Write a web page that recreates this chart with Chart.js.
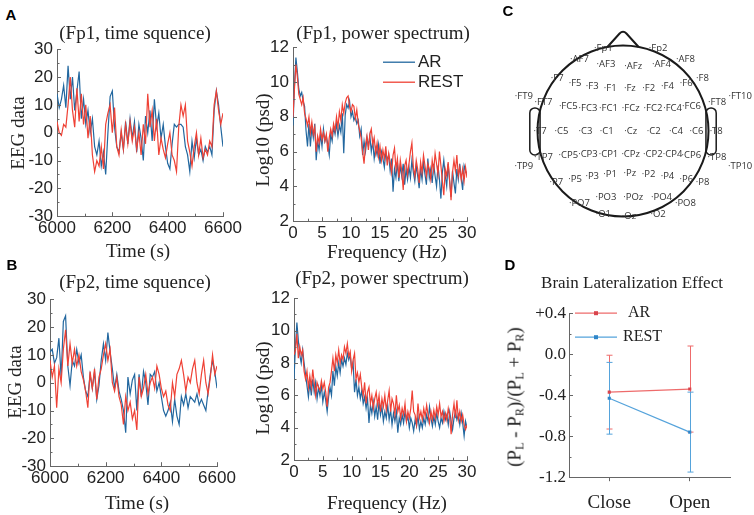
<!DOCTYPE html>
<html>
<head>
<meta charset="utf-8">
<script src="https://cdn.jsdelivr.net/npm/chart.js@4.4.0/dist/chart.umd.min.js"></script>
<style>
  body { margin: 0; background: #fff; }
  #page { position: relative; width: 754px; height: 515px; overflow: hidden; }
  .box { position: absolute; }
  .t { position: absolute; transform: translate(-50%, -50%); white-space: nowrap; line-height: 1;
       color: #222; font-family: "Liberation Serif", "Times New Roman", serif; font-size: 19px; }
  .rot { transform: translate(-50%, -50%) rotate(-90deg); }
  .pl { font-family: "Liberation Sans", Arial, sans-serif; font-weight: bold; font-size: 15px; color: #000; }
  sub { font-size: 12px; vertical-align: -3px; }
</style>
</head>
<body>
<div id="page">
  <div class="box" id="boxA1"><canvas id="cA1"></canvas></div>
  <div class="box" id="boxA2"><canvas id="cA2"></canvas></div>
  <div class="box" id="boxB1"><canvas id="cB1"></canvas></div>
  <div class="box" id="boxB2"><canvas id="cB2"></canvas></div>
  <div class="box" id="boxC" style="left:500px;top:0;width:254px;height:240px"><canvas id="cC"></canvas></div>
  <div class="box" id="boxD"><canvas id="cD"></canvas></div>

  <div class="t pl" style="left:11px;top:14px">A</div>
  <div class="t" style="left:135px;top:32px">(Fp1, time squence)</div>
  <div class="t" style="left:383px;top:32px">(Fp1, power spectrum)</div>
  <div class="t rot" style="left:17px;top:133px">EEG data</div>
  <div class="t rot" style="left:262px;top:140px">Log10 (psd)</div>
  <div class="t" style="left:138px;top:250px">Time (s)</div>
  <div class="t" style="left:387px;top:251px">Frequency (Hz)</div>

  <div class="t pl" style="left:12px;top:264px">B</div>
  <div class="t" style="left:135px;top:281px">(Fp2, time squence)</div>
  <div class="t" style="left:382px;top:277px">(Fp2, power spectrum)</div>
  <div class="t rot" style="left:14px;top:382px">EEG data</div>
  <div class="t rot" style="left:262px;top:388px">Log10 (psd)</div>
  <div class="t" style="left:137px;top:502px">Time (s)</div>
  <div class="t" style="left:387px;top:502px">Frequency (Hz)</div>

  <div class="t pl" style="left:508px;top:10px">C</div>
  <div class="t pl" style="left:510px;top:264px">D</div>
  <div class="t" style="left:632px;top:282px;font-size:17px">Brain Lateralization Effect</div>
  <div class="t rot" style="left:515px;top:397px">(P<sub>L</sub> - P<sub>R</sub>)/(P<sub>L</sub> + P<sub>R</sub>)</div>
</div>

<script>
// time sequences, one sample every 8 s from 6000 s
const timeStart = 6000;
const timeStep = 8;
const fp1TimeAR = [14, 9, 12, 17, 9, 24, 12, 20, 8, 15,
  22, 5, 12, 3, 8, 0, 5, -5, -8, -3,
  -12, -7, -15, 0, 13, 15, 2, -5, -7, 0,
  -6, 4, -4, 5, -2, 4, -7, 3, -2, -10,
  6, 0, 8, -3, 12, 2, 7, -2, 3, -5,
  -11, -13, -4, 3, 2, 3, 3, 2, -5, -8,
  -14, -3, -9, -2, -8, -6, -10, -5, -7, -5,
  -8, 8, 15, 10, 2, -5];
const fp1TimeREST = [4, 0, -1, 3, 2, 10, 20, 8, 2, 16,
  4, 14, 3, 10, -2, 6, -8, -14, -10, -12,
  -5, -13, 3, 7, 10, 0, 9, -5, -8, 1,
  -6, 3, -4, 4, -3, 2, -6, 0, -8, 3,
  -4, 14, 2, 8, -3, 5, -8, -2, -6, -9,
  -4, 0, -8, -10, -14, 2, 10, 6, 10, -3,
  -7, -12, -5, 0, -8, -2, -9, -6, -8, -3,
  -5, 10, 15, 8, 3, 7];
const fp2TimeAR = [11, 12, 7, 9, 16, 2, 22, 24, 6, -1,
  8, 6, 12, 7, 10, 2, -3, -5, 3, -2,
  4, -6, -1, 8, 14, 8, 18, 11, 5, -2,
  3, -3, -6, -10, -18, 2, -4, 1, 3, -10,
  3, -5, 4, 0, -8, 3, 2, 4, -3, 0,
  -5, -10, -12, -10, -7, -14, -6, -12, -15, -5,
  -8, -4, -9, -5, -6, -7, -4, -8, -6, -8,
  -10, -3, 3, 8, 4, -2];
const fp2TimeREST = [8, 2, 6, -9, 5, 0, 12, 19, 6, 14,
  7, 12, 6, 10, 4, 1, -3, -9, 4, -2,
  5, -6, 2, 5, 10, 14, 8, 12, 0, -3,
  2, -5, -8, -15, -5, -10, -7, -13, -10, -17,
  2, -5, -2, 3, -4, 0, 2, -2, 6, 3,
  -2, -5, -3, -8, -10, 0, -5, 3, 5, 8,
  3, -3, 2, 0, 5, 8, 0, -4, 3, 8,
  0, -4, 2, 10, 3, 6];

// power spectra, one value every 0.25 Hz from 0 Hz
const freqStep = 0.25;
const fp1PsdAR = [7.5, 9.8, 11.4, 10.6, 9.6, 9.2, 9.4, 8.9, 8.6, 7.2,
  6.3, 7.6, 6.3, 7.4, 6.8, 7.6, 5.5, 6.6, 6.1, 7.0,
  6.3, 7.3, 6.6, 6.9, 6.4, 5.8, 7.0, 6.6, 7.4, 7.0,
  7.6, 6.9, 7.5, 7.1, 8.2, 5.9, 8.1, 8.7, 8.5, 8.9,
  8.0, 8.3, 7.8, 8.0, 7.6, 7.8, 6.9, 7.3, 5.8, 6.6,
  6.0, 6.8, 6.3, 6.9, 6.0, 6.6, 5.6, 6.2, 5.8, 6.4,
  5.3, 6.0, 5.6, 5.1, 6.0, 5.5, 5.8, 4.9, 5.6, 3.7,
  5.0, 4.5, 5.4, 4.3, 5.2, 4.6, 5.3, 4.1, 5.0, 4.4,
  5.1, 4.5, 5.5, 4.8, 4.3, 5.2, 4.6, 3.9, 5.0, 4.4,
  5.4, 4.7, 4.1, 5.6, 4.5, 5.0, 4.2, 5.3, 4.6, 4.0,
  5.2, 4.4, 3.3, 4.8, 5.5, 4.6, 4.0, 5.3, 4.3, 3.4,
  4.9, 4.2, 3.6, 5.0, 4.4, 5.3, 4.5, 3.8, 5.2, 4.9,
  4.7];
const fp1PsdREST = [8.0, 9.6, 11.0, 10.3, 9.3, 9.0, 8.7, 9.1, 8.2, 7.9,
  7.5, 8.0, 7.1, 7.7, 7.0, 7.4, 6.0, 6.9, 6.5, 7.3,
  6.7, 7.1, 6.6, 7.0, 6.0, 6.8, 7.3, 6.9, 7.6, 7.2,
  8.0, 7.4, 8.3, 7.8, 8.7, 8.2, 8.8, 9.1, 9.2, 8.6,
  8.3, 8.7, 8.6, 7.9, 8.4, 7.6, 7.2, 6.8, 6.0, 5.3,
  6.4, 6.9, 6.1, 7.0, 7.3, 6.4, 6.8, 5.9, 6.5, 5.7,
  6.3, 5.5, 6.1, 5.6, 6.3, 5.2, 5.9, 5.4, 4.8, 5.8,
  6.2, 5.0, 5.6, 4.5, 5.5, 4.9, 3.8, 5.2, 5.5, 4.7,
  5.3, 6.0, 6.5, 5.1, 4.6, 5.5, 5.0, 4.2, 5.4, 4.8,
  5.8, 5.2, 4.6, 5.3, 5.0, 4.4, 5.5, 4.9, 5.9, 5.3,
  4.7, 6.0, 5.2, 4.3, 3.5, 5.0, 4.6, 5.4, 4.4, 3.2,
  4.8, 5.5, 4.9, 5.8, 4.6, 5.1, 4.4, 5.0, 4.3, 5.1,
  4.5];
const fp2PsdAR = [7.0, 9.0, 10.5, 9.4, 8.5, 8.0, 8.8, 8.0, 7.3, 6.6,
  5.9, 6.8, 6.0, 7.0, 6.2, 6.8, 5.8, 6.5, 6.0, 6.6,
  5.6, 6.2, 5.7, 5.0, 5.9, 6.5, 6.0, 7.5, 6.6, 7.8,
  7.2, 8.0, 7.4, 8.2, 7.8, 8.3, 7.9, 8.6, 8.2, 8.5,
  7.6, 8.0, 6.2, 7.0, 6.0, 6.5, 5.8, 6.3, 5.5, 5.9,
  5.2, 5.8, 4.3, 5.4, 4.9, 5.6, 4.7, 5.3, 4.5, 5.6,
  4.8, 5.3, 4.4, 5.0, 4.6, 5.4, 4.5, 5.1, 4.2, 4.9,
  4.4, 5.0, 3.7, 4.6, 4.2, 4.8, 4.3, 5.0, 4.4, 4.7,
  4.0, 4.6, 4.3, 3.8, 4.5, 4.1, 4.7, 3.9, 4.4, 4.0,
  4.6, 4.2, 4.8, 4.4, 5.3, 4.6, 4.1, 4.7, 4.2, 4.9,
  4.4, 4.0, 4.6, 4.3, 5.0, 4.5, 4.8, 4.2, 5.0, 4.4,
  3.9, 4.6, 5.0, 4.5, 4.8, 4.2, 4.9, 4.3, 3.5, 4.4,
  4.0];
const fp2PsdREST = [8.5, 8.8, 9.8, 8.3, 9.0, 8.5, 8.8, 7.5, 7.0, 7.5,
  6.5, 7.2, 6.5, 7.6, 6.8, 6.0, 6.8, 6.5, 6.3, 6.9,
  6.4, 6.8, 6.2, 5.3, 6.5, 6.8, 7.5, 8.3, 7.5, 8.5,
  8.0, 8.8, 8.0, 8.5, 8.2, 9.0, 8.6, 9.2, 8.4, 8.7,
  7.5, 8.2, 8.6, 7.0, 7.4, 6.8, 7.3, 6.5, 6.0, 6.8,
  5.5, 6.2, 6.5, 5.5, 6.0, 5.2, 5.8, 6.2, 5.4, 6.0,
  5.0, 5.8, 5.3, 6.0, 5.1, 5.7, 6.3, 5.0, 5.8, 5.5,
  4.8, 6.0, 5.0, 5.4, 4.6, 5.2, 4.8, 5.5, 4.4, 5.0,
  4.6, 5.2, 6.3, 5.0, 4.8, 4.2, 5.5, 4.6, 5.0, 4.5,
  5.2, 4.7, 5.4, 4.8, 4.3, 5.0, 4.5, 5.1, 4.6, 5.3,
  4.8, 5.5, 4.7, 5.0, 4.4, 4.9, 4.5, 5.2, 4.7, 3.6,
  4.8, 5.5, 4.6, 5.7, 4.5, 5.0, 4.4, 4.8, 4.2, 3.9,
  4.2];

// 10-10 electrode layout, head radius = 1
const elecNames = ['Fp1', 'Fp2',
  'AF7', 'AF3', 'AFz', 'AF4', 'AF8',
  'F7', 'F5', 'F3', 'F1', 'Fz', 'F2', 'F4', 'F6', 'F8',
  'FT9', 'FT7', 'FC5', 'FC3', 'FC1', 'FCz', 'FC2', 'FC4', 'FC6', 'FT8', 'FT10',
  'T7', 'C5', 'C3', 'C1', 'Cz', 'C2', 'C4', 'C6', 'T8',
  'TP9', 'TP7', 'CP5', 'CP3', 'CP1', 'CPz', 'CP2', 'CP4', 'CP6', 'TP8', 'TP10',
  'P7', 'P5', 'P3', 'P1', 'Pz', 'P2', 'P4', 'P6', 'P8',
  'PO7', 'PO3', 'POz', 'PO4', 'PO8',
  'O1', 'Oz', 'O2'];
const elecX = [-0.23, 0.41,
  -0.51, -0.20, 0.12, 0.45, 0.73,
  -0.77, -0.56, -0.36, -0.15, 0.08, 0.30, 0.52, 0.74, 0.93,
  -1.16, -0.93, -0.64, -0.41, -0.17, 0.09, 0.35, 0.58, 0.80, 1.10, 1.37,
  -0.97, -0.72, -0.44, -0.19, 0.09, 0.36, 0.62, 0.86, 1.09,
  -1.16, -0.93, -0.64, -0.41, -0.17, 0.09, 0.35, 0.58, 0.80, 1.10, 1.37,
  -0.78, -0.56, -0.36, -0.15, 0.08, 0.30, 0.52, 0.74, 0.93,
  -0.51, -0.20, 0.12, 0.45, 0.73,
  -0.23, 0.07, 0.41];
const elecY = [0.97, 0.97,
  0.84, 0.78, 0.76, 0.78, 0.84,
  0.62, 0.56, 0.52, 0.50, 0.50, 0.50, 0.52, 0.56, 0.62,
  0.41, 0.33, 0.29, 0.27, 0.27, 0.26, 0.27, 0.27, 0.29, 0.33, 0.41,
  0, 0, 0, 0, 0, 0, 0, 0, 0,
  -0.41, -0.31, -0.29, -0.27, -0.27, -0.27, -0.27, -0.27, -0.29, -0.31, -0.41,
  -0.60, -0.57, -0.53, -0.51, -0.50, -0.51, -0.53, -0.57, -0.60,
  -0.84, -0.78, -0.77, -0.78, -0.84,
  -0.98, -1.00, -0.98];

// lateralization index
const conditions = ['Close', 'Open'];
const latAR = [-0.37, -0.34];
const latARerr = [0.36, 0.42];
const latREST = [-0.43, -0.76];
const latRESTerr = [0.35, 0.39];

const AR_BLUE = '#22679f';
const REST_RED = '#ef4135';
const SANS = '"Liberation Sans", Arial, sans-serif';
const SERIF = '"Liberation Serif", "Times New Roman", serif';

const timeAxis = fp1TimeAR.map((v, i) => timeStart + i * timeStep);
const freqAxis = fp1PsdAR.map((v, i) => i * freqStep);

// tick marks pointing into the plot, major and minor
const innerTicks = {
  id: 'innerTicks',
  afterDraw(chart, args, opts) {
    const ctx = chart.ctx, a = chart.chartArea;
    ctx.save();
    ctx.strokeStyle = '#666';
    ctx.lineWidth = 1;
    ['x', 'y'].forEach(id => {
      const spec = opts[id];
      if (!spec) return;
      const s = chart.scales[id];
      const n = Math.round((s.max - s.min) / spec.minor);
      for (let k = 0; k <= n; k++) {
        const off = k * spec.minor;
        const r = off / spec.major;
        const len = Math.abs(r - Math.round(r)) < 1e-6 ? 4 : 2.5;
        const p = Math.round(s.getPixelForValue(s.min + off)) + 0.5;
        ctx.beginPath();
        if (id === 'x') { ctx.moveTo(p, a.bottom); ctx.lineTo(p, a.bottom - len); }
        else { ctx.moveTo(a.left, p); ctx.lineTo(a.left + len, p); }
        ctx.stroke();
      }
    });
    ctx.restore();
  }
};

const insideLegend = {
  id: 'insideLegend',
  afterDraw(chart, args, o) {
    if (!o || !o.items) return;
    const ctx = chart.ctx, a = chart.chartArea;
    ctx.save();
    chart.data.datasets.forEach((ds, i) => {
      const it = o.items[i];
      const x = a.left + it.dx, y = a.top + it.dy;
      ctx.strokeStyle = ds.borderColor;
      ctx.lineWidth = o.lineWidth;
      ctx.beginPath(); ctx.moveTo(x, y); ctx.lineTo(x + o.len, y); ctx.stroke();
      if (o.marker) {
        ctx.fillStyle = ds.pointBackgroundColor;
        ctx.fillRect(x + o.len / 2 - 2, y - 2, 4, 4);
      }
      ctx.fillStyle = '#222';
      ctx.font = o.font;
      ctx.textBaseline = 'middle';
      ctx.fillText(ds.label, x + o.len + it.gap, y);
    });
    ctx.restore();
  }
};

const errorBars = {
  id: 'errorBars',
  beforeDatasetsDraw(chart) {
    const ctx = chart.ctx, ys = chart.scales.y;
    ctx.save();
    chart.data.datasets.forEach((ds, i) => {
      const meta = chart.getDatasetMeta(i);
      meta.data.forEach((pt, j) => {
        const top = ys.getPixelForValue(ds.data[j] + ds.errors[j]);
        const bot = ys.getPixelForValue(ds.data[j] - ds.errors[j]);
        const x = Math.round(pt.x) + 0.5;
        ctx.strokeStyle = ds.borderColor;
        ctx.lineWidth = 1;
        ctx.beginPath();
        ctx.moveTo(x, top); ctx.lineTo(x, bot);
        ctx.moveTo(x - 3, top); ctx.lineTo(x + 3, top);
        ctx.moveTo(x - 3, bot); ctx.lineTo(x + 3, bot);
        ctx.stroke();
      });
    });
    ctx.restore();
  }
};

const headMap = {
  id: 'headMap',
  beforeDatasetsDraw(chart) {
    const ctx = chart.ctx, xs = chart.scales.x, ys = chart.scales.y;
    const px = v => xs.getPixelForValue(v), py = v => ys.getPixelForValue(v);
    const cx = px(0), cy = py(0), r = px(1) - cx;
    ctx.save();
    ctx.strokeStyle = '#1a1a1a';
    ctx.lineWidth = 2;
    ctx.beginPath(); ctx.arc(cx, cy, r, 0, Math.PI * 2); ctx.stroke();
    // nose
    ctx.beginPath();
    ctx.moveTo(px(-0.18), py(0.985));
    ctx.lineTo(px(-0.04), py(1.14));
    ctx.quadraticCurveTo(px(0), py(1.18), px(0.04), py(1.14));
    ctx.lineTo(px(0.18), py(0.985));
    ctx.stroke();
    // ears
    ctx.lineWidth = 1.5;
    [-1, 1].forEach(side => {
      const x0 = side < 0 ? px(-1.09) : px(0.97);
      const w = px(1.09) - px(0.97);
      const y0 = py(0.27), h = py(-0.28) - py(0.27);
      ctx.beginPath();
      ctx.roundRect(x0, y0, w, h, 5);
      ctx.stroke();
    });
    ctx.restore();
  },
  afterDatasetsDraw(chart) {
    const ctx = chart.ctx;
    const meta = chart.getDatasetMeta(0);
    ctx.save();
    ctx.font = '9.5px "Open Sans", ' + SANS;
    ctx.fillStyle = '#333';
    ctx.textAlign = 'center';
    ctx.textBaseline = 'middle';
    meta.data.forEach((pt, i) => ctx.fillText('\u00b7' + elecNames[i], pt.x, pt.y));
    ctx.restore();
  }
};

// place a chart box so that its plot area lands on the given rectangle
function frame(boxId, plot, m) {
  const el = document.getElementById(boxId);
  el.style.left = (plot[0] - m.l) + 'px';
  el.style.top = (plot[1] - m.t) + 'px';
  el.style.width = (plot[2] - plot[0] + m.l + m.r) + 'px';
  el.style.height = (plot[3] - plot[1] + m.t + m.b) + 'px';
}

// nudge the box until the chart area sits exactly on the plot rectangle
function fitToPlot(chart, boxId, plot) {
  const el = document.getElementById(boxId);
  for (let k = 0; k < 3; k++) {
    const a = chart.chartArea;
    const w = parseFloat(el.style.width), h = parseFloat(el.style.height);
    el.style.width = (w + (plot[2] - plot[0]) - (a.right - a.left)) + 'px';
    el.style.height = (h + (plot[3] - plot[1]) - (a.bottom - a.top)) + 'px';
    chart.resize();
    const b = chart.chartArea;
    el.style.left = (plot[0] - b.left) + 'px';
    el.style.top = (plot[1] - b.top) + 'px';
  }
}

function signalChart(boxId, canvasId, plot, xs, ar, rest, xr, yr, legend) {
  const m = { l: 40, t: 10, r: 25, b: 30 };
  frame(boxId, plot, m);
  const tickFont = { family: SANS, size: 17 };
  const chart = new Chart(document.getElementById(canvasId), {
    type: 'line',
    data: {
      datasets: [
        { label: 'AR', data: xs.map((x, i) => ({ x: x, y: ar[i] })), borderColor: AR_BLUE,
          borderWidth: 1.2, pointRadius: 0, tension: 0, order: 1 },
        { label: 'REST', data: xs.map((x, i) => ({ x: x, y: rest[i] })), borderColor: REST_RED,
          borderWidth: 1.2, pointRadius: 0, tension: 0, order: 0 }
      ]
    },
    options: {
      animation: false,
      responsive: true,
      maintainAspectRatio: false,
      layout: { padding: { left: 0, top: m.t, right: m.r, bottom: 0 } },
      plugins: {
        legend: { display: false },
        tooltip: { enabled: false },
        innerTicks: { x: { major: xr.step, minor: xr.minor }, y: { major: yr.step, minor: yr.minor } },
        insideLegend: legend
      },
      scales: {
        x: {
          type: 'linear', min: xr.min, max: xr.max,
          grid: { display: false, drawTicks: false },
          border: { color: '#666' },
          ticks: { stepSize: xr.step, font: tickFont, color: '#222', padding: 2, maxRotation: 0,
                   callback: v => String(v) },
          afterFit: s => { s.height = m.b; }
        },
        y: {
          min: yr.min, max: yr.max,
          grid: { display: false, drawTicks: false },
          border: { color: '#666' },
          ticks: { stepSize: yr.step, font: tickFont, color: '#222', padding: 4,
                   callback: v => String(v) },
          afterFit: s => { s.width = m.l; }
        }
      }
    },
    plugins: [innerTicks, insideLegend]
  });
  fitToPlot(chart, boxId, plot);
  return chart;
}

const timeRange = { min: 6000, max: 6600, step: 200, minor: 100 };
const eegRange = { min: -30, max: 30, step: 10, minor: 5 };
const freqRange = { min: 0, max: 30, step: 5, minor: 2.5 };
const psdRange = { min: 2, max: 12, step: 2, minor: 1 };

signalChart('boxA1', 'cA1', [57, 49, 223, 216], timeAxis, fp1TimeAR, fp1TimeREST, timeRange, eegRange, null);
signalChart('boxA2', 'cA2', [293, 47, 467, 221], freqAxis, fp1PsdAR, fp1PsdREST, freqRange, psdRange,
  { len: 32, lineWidth: 1.3, font: '17px ' + SANS, items: [{ dx: 90, dy: 15, gap: 3 }, { dx: 90, dy: 35, gap: 3 }] });
signalChart('boxB1', 'cB1', [50, 299, 217, 466], timeAxis, fp2TimeAR, fp2TimeREST, timeRange, eegRange, null);
signalChart('boxB2', 'cB2', [294, 298, 467, 460], freqAxis, fp2PsdAR, fp2PsdREST, freqRange, psdRange, null);

// electrode map
new Chart(document.getElementById('cC'), {
  type: 'scatter',
  data: {
    datasets: [{ label: 'electrodes', data: elecNames.map((n, i) => ({ x: elecX[i], y: elecY[i] })), pointRadius: 0 }]
  },
  options: {
    animation: false,
    responsive: true,
    maintainAspectRatio: false,
    layout: { padding: 0 },
    plugins: { legend: { display: false }, tooltip: { enabled: false } },
    scales: {
      x: { type: 'linear', display: false, min: -1.4386, max: 1.532 },
      y: { type: 'linear', display: false, min: -1.275, max: 1.532 }
    }
  },
  plugins: [headMap]
});

// lateralization effect
const mD = { l: 48, t: 10, r: 15, b: 40 };
const plotD = [569, 313, 730, 477];
frame('boxD', plotD, mD);
const chartD = new Chart(document.getElementById('cD'), {
  type: 'line',
  data: {
    labels: conditions,
    datasets: [
      { label: 'AR', data: latAR, errors: latARerr, borderColor: '#ee6b6b', pointBackgroundColor: '#d9444c',
        pointBorderWidth: 0, pointStyle: 'rect', pointRadius: 2.2, borderWidth: 1.2, order: 1 },
      { label: 'REST', data: latREST, errors: latRESTerr, borderColor: '#55a3db', pointBackgroundColor: '#2f86c9',
        pointBorderWidth: 0, pointStyle: 'rect', pointRadius: 2.2, borderWidth: 1.2, order: 0 }
    ]
  },
  options: {
    animation: false,
    responsive: true,
    maintainAspectRatio: false,
    layout: { padding: { left: 0, top: mD.t, right: mD.r, bottom: 0 } },
    plugins: {
      legend: { display: false },
      tooltip: { enabled: false },
      innerTicks: { y: { major: 0.4, minor: 0.2 } },
      insideLegend: { len: 42, lineWidth: 1.2, marker: true, font: '16px ' + SERIF,
        items: [{ dx: 6, dy: 0, gap: 11 }, { dx: 6, dy: 24, gap: 6 }] }
    },
    scales: {
      x: {
        type: 'category', offset: true,
        grid: { display: true, drawOnChartArea: false, drawTicks: true, tickLength: 4, color: '#666', offset: false },
        border: { color: '#666' },
        ticks: { font: { family: SERIF, size: 19 }, color: '#222', padding: 10 },
        afterFit: s => { s.height = mD.b; }
      },
      y: {
        min: -1.2, max: 0.4,
        grid: { display: false, drawTicks: false },
        border: { color: '#666' },
        ticks: { stepSize: 0.4, font: { family: SERIF, size: 17 }, color: '#222', padding: 3,
                 callback: v => (v > 0.001 ? '+' : '') + (Math.abs(v) < 0.001 ? 0 : v).toFixed(1) },
        afterFit: s => { s.width = mD.l; }
      }
    }
  },
  plugins: [innerTicks, insideLegend, errorBars]
});
fitToPlot(chartD, 'boxD', plotD);
</script>
</body>
</html>
